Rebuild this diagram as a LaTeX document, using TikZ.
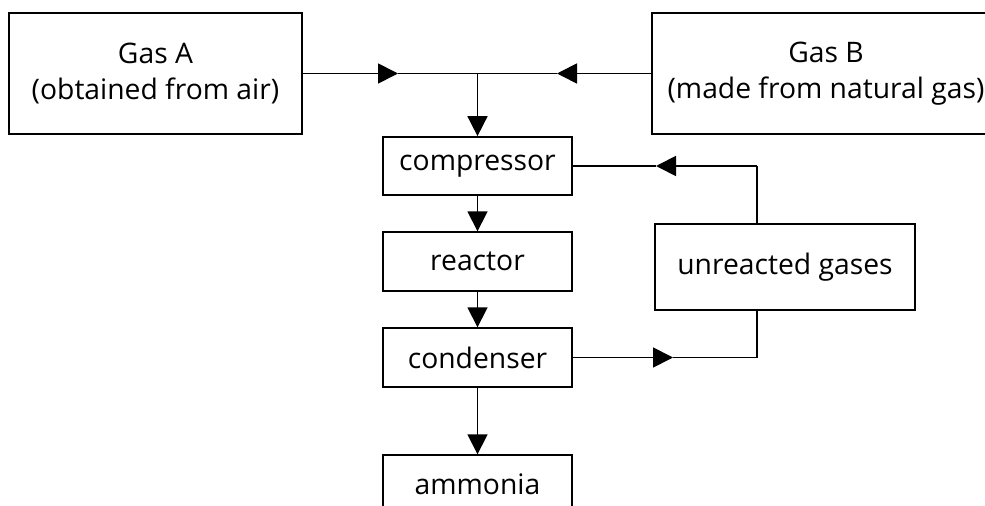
\documentclass[tikz,border=0pt]{standalone}
\usepackage{fontspec}
\setmainfont{Open Sans}
\usetikzlibrary{arrows.meta}
\begin{document}
\begin{tikzpicture}[x=0.75pt,y=-0.75pt,
  box/.style={draw, line width=1.3pt, inner sep=0pt, align=center,
    font=\fontsize{21.2}{26.5}\selectfont},
  flow/.style={line width=1.3pt},
  tipped/.style={-{Triangle[length=15pt,width=15pt]}}]
\useasboundingbox (0,0) rectangle (985,506);
\clip (0,0) rectangle (985,506);
% boxes
\node[box, minimum width=219.75pt, minimum height=90.75pt] (gasA) at (155.5,73.5) {Gas A\\(obtained from air)};
\node[box, minimum width=261pt, minimum height=90.75pt] (gasB) at (826,73.5) {Gas B\\(made from natural gas)};
\node[box, minimum width=141.75pt, minimum height=43.5pt] (comp) at (477.5,166) {compressor};
\node[box, minimum width=141.75pt, minimum height=44pt] (reac) at (477.5,261.5) {reactor};
\node[box, minimum width=141.75pt, minimum height=44pt] (cond) at (477.5,357.5) {condenser};
\node[box, minimum width=141.75pt, minimum height=44pt] (ammo) at (477.5,484.5) {ammonia};
\node[box, minimum width=195pt, minimum height=64.5pt] (unre) at (785,267) {unreacted gases};
% helper coordinates
\coordinate (j) at (477.5,73.5);
\coordinate (tipA) at (398,73.5);
\coordinate (tipB) at (557,73.5);
\coordinate (fb) at (757,166);
\coordinate (tipF) at (656,166);
\coordinate (cb) at (757,357.5);
\coordinate (tipC) at (673,357.5);
% connectors
\draw[flow,tipped] (gasA.east) -- (tipA);
\draw[flow,tipped] (gasB.west) -- (tipB);
\draw[flow] (tipA) -- (tipB);
\draw[flow,tipped] (j) -- (comp.north);
\draw[flow,tipped] (comp.south) -- (reac.north);
\draw[flow,tipped] (reac.south) -- (cond.north);
\draw[flow,tipped] (cond.south) -- (ammo.north);
\draw[flow] (unre.north -| fb) -- (fb);
\draw[flow,tipped] (fb) -- (tipF);
\draw[flow] (tipF) -- (comp.east);
\draw[flow,tipped] (cond.east) -- (tipC);
\draw[flow] (tipC) -- (cb) -- (unre.south -| cb);
\end{tikzpicture}
\end{document}
